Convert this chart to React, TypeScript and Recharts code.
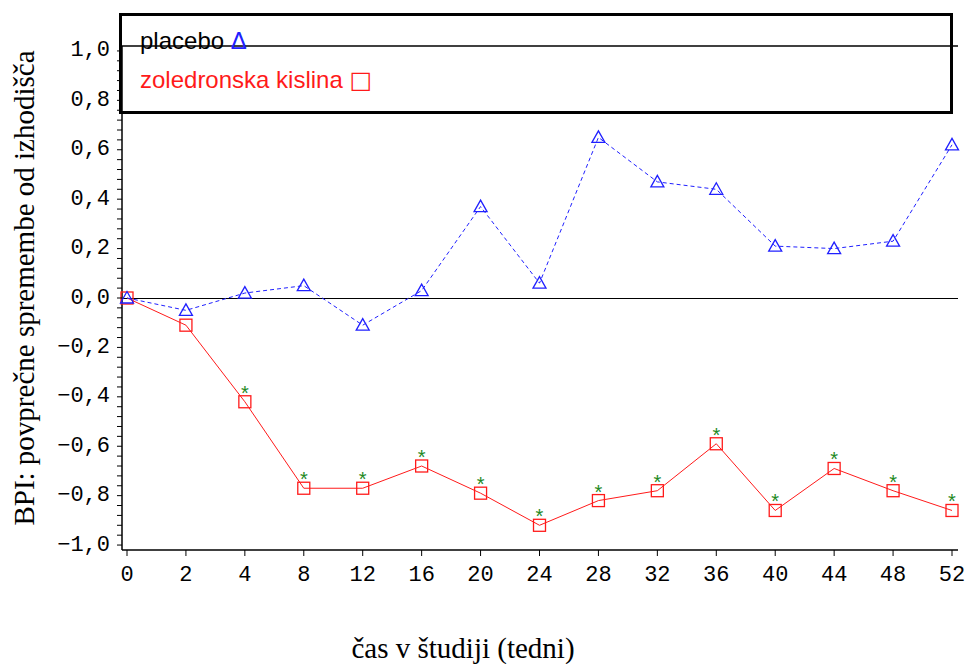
import React from 'react';
import { LineChart, Line, XAxis, YAxis, ReferenceLine, Legend } from 'recharts';

const weeks = ['0', '2', '4', '8', '12', '16', '20', '24', '28', '32', '36', '40', '44', '48', '52'];
const placebo = [0.0, -0.05, 0.02, 0.05, -0.11, 0.03, 0.37, 0.06, 0.65, 0.47, 0.44, 0.21, 0.2, 0.23, 0.62];
const zoledronic = [0.0, -0.11, -0.42, -0.77, -0.77, -0.68, -0.79, -0.92, -0.82, -0.78, -0.59, -0.86, -0.69, -0.78, -0.86];
const significant = [false, false, true, true, true, true, true, true, true, true, true, true, true, true, true];
const majorTicks = [-1, -0.8, -0.6, -0.4, -0.2, 0, 0.2, 0.4, 0.6, 0.8, 1];
const minorStep = 0.04;
const Y_MIN = -1.02;
const Y_MAX = 1.02;
const seriesNames = ['placebo', 'zoledronska kislina'];
const yLabel = 'BPI: povprečne spremembe od izhodišča';
const xLabel = 'čas v študiji (tedni)';

const BLUE = '#2020ff';
const RED = '#ff1a1a';
const GREEN = '#1f8a1f';
const TICK_FONT = "'Liberation Mono', 'Courier New', monospace";
const SERIF = "'Liberation Serif', 'Times New Roman', serif";
const SANS = "'Liberation Sans', Arial, 'DejaVu Sans', sans-serif";

const data = weeks.map((w, i) => ({ week: w, placebo: placebo[i], zol: zoledronic[i], sig: significant[i] }));
const yTicks: number[] = [];
for (let v = -1; v <= 1.0001; v += minorStep) yTicks.push(Math.round(v * 100) / 100);

const fmt = (v: number) => {
  const s = Math.abs(v).toFixed(1).replace('.', ',');
  return v < -1e-9 ? '\u2212' + s : s;
};

const YTick = (props: any) => {
  const { x, y, payload } = props;
  const v = payload.value;
  const isMajor = majorTicks.some((m) => Math.abs(m - v) < 1e-6);
  return (
    <g>
      <line x1={x} x2={x - 5} y1={y} y2={y} stroke="#000" strokeWidth={1} />
      {isMajor && (
        <text x={x - 12} y={y} textAnchor="end" dominantBaseline="central" fontFamily={TICK_FONT} fontSize={22} fill="#000">
          {fmt(v)}
        </text>
      )}
    </g>
  );
};

const XTick = (props: any) => {
  const { x, y, payload } = props;
  return (
    <g>
      <line x1={x} x2={x} y1={y} y2={y + 6} stroke="#000" strokeWidth={1} />
      <text x={x} y={y + 25} textAnchor="middle" dominantBaseline="central" fontFamily={TICK_FONT} fontSize={22} fill="#000">
        {payload.value}
      </text>
    </g>
  );
};

const TriangleDot = (props: any) => {
  const { cx, cy, index } = props;
  return (
    <path
      key={`tri-${index}`}
      d={`M${cx},${cy - 6.5} L${cx + 6.5},${cy + 5} L${cx - 6.5},${cy + 5} Z`}
      fill="none"
      stroke={BLUE}
      strokeWidth={1.3}
    />
  );
};

const SquareDot = (props: any) => {
  const { cx, cy, index } = props;
  return <rect key={`sq-${index}`} x={cx - 6} y={cy - 6} width={12} height={12} fill="none" stroke={RED} strokeWidth={1.3} />;
};

const StarLabel = (props: any) => {
  const { x, y, index } = props;
  if (!significant[index]) return null;
  return (
    <text key={`st-${index}`} x={x} y={y - 2} textAnchor="middle" fontFamily={SANS} fontSize={20} fill={GREEN}>
      *
    </text>
  );
};

const LegendBox = () => (
  <svg width={834} height={101} style={{ display: 'block', background: 'transparent' }}>
    <rect x={1.5} y={1.5} width={831} height={98} fill="none" stroke="#000" strokeWidth={3} />
    <text x={21} y={36} fontFamily={SANS} fontSize={24} fill="#000">
      {seriesNames[0]} <tspan fill={BLUE}>Δ</tspan>
    </text>
    <text x={21} y={75} fontFamily={SANS} fontSize={24} fill={RED}>
      {seriesNames[1]} <tspan fontFamily="'DejaVu Sans', sans-serif">□</tspan>
    </text>
  </svg>
);

export default function App() {
  return (
    <div style={{ position: 'absolute', left: 0, top: 0, width: 966, height: 664, background: '#fff' }}>
      <LineChart width={966} height={664} data={data} margin={{ top: 46, right: 8, bottom: 84, left: 0 }}>
        <XAxis
          dataKey="week"
          interval={0}
          height={30}
          padding={{ left: 5, right: 6 }}
          tickSize={0}
          tickMargin={0}
          tickLine={false}
          tick={<XTick />}
          axisLine={{ stroke: '#000', strokeWidth: 1.5 }}
          label={{
            content: () => (
              <text x={463} y={658} textAnchor="middle" fontFamily={SERIF} fontSize={29} fill="#000">
                {xLabel}
              </text>
            ),
          }}
        />
        <YAxis
          type="number"
          domain={[Y_MIN, Y_MAX]}
          ticks={yTicks}
          interval={0}
          width={122}
          tickSize={0}
          tickMargin={0}
          tickLine={false}
          tick={<YTick />}
          axisLine={{ stroke: '#000', strokeWidth: 1.5 }}
          label={{
            content: () => (
              <text x={0} y={0} transform="translate(34,288) rotate(-90)" textAnchor="middle" fontFamily={SERIF} fontSize={29} fill="#000">
                {yLabel}
              </text>
            ),
          }}
        />
        <YAxis
          yAxisId="right"
          orientation="right"
          type="number"
          domain={[Y_MIN, Y_MAX]}
          width={0}
          tick={false}
          tickLine={false}
          axisLine={{ stroke: '#000', strokeWidth: 1.5 }}
        />
        <ReferenceLine y={Y_MAX} stroke="#000" strokeWidth={1.5} />
        <ReferenceLine y={0} stroke="#000" strokeWidth={1} shapeRendering="crispEdges" />
        <Line
          dataKey="zol"
          name={seriesNames[1]}
          stroke={RED}
          strokeWidth={1}
          dot={SquareDot}
          activeDot={false}
          label={StarLabel}
          isAnimationActive={false}
        />
        <Line
          dataKey="placebo"
          name={seriesNames[0]}
          stroke={BLUE}
          strokeWidth={1}
          strokeDasharray="4 3"
          dot={TriangleDot}
          activeDot={false}
          isAnimationActive={false}
        />
        <Legend
          layout="horizontal"
          verticalAlign="middle"
          align="center"
          content={() => <LegendBox />}
          wrapperStyle={{ left: 119, top: 13, width: 834, height: 101 }}
        />
      </LineChart>
    </div>
  );
}
